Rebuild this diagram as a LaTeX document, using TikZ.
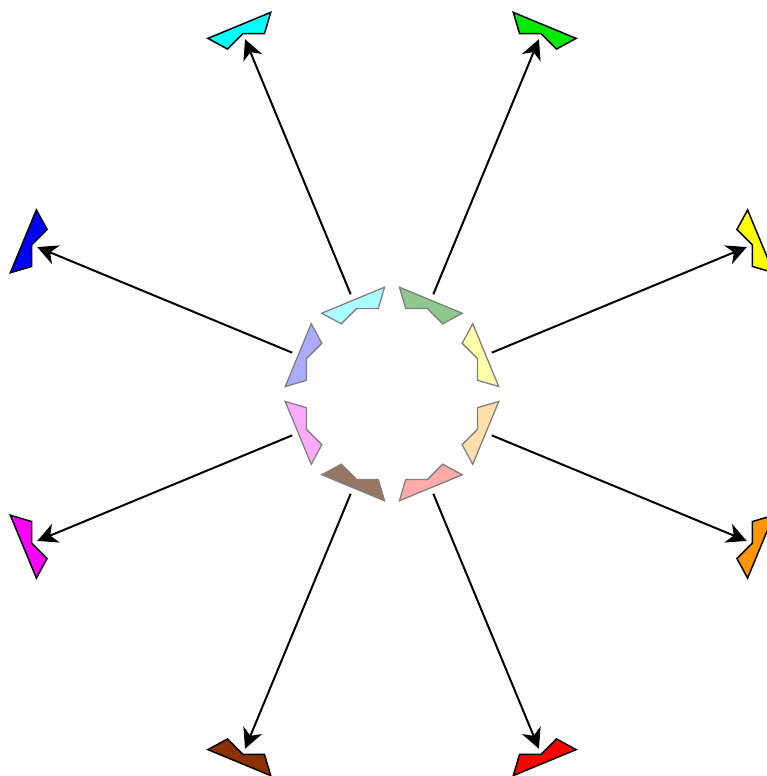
\documentclass[tikz,border=0pt]{standalone}
\usepackage{tikz}
\usetikzlibrary{arrows.meta}

\definecolor{paleYellow}{RGB}{255,255,170}
\definecolor{paleGreen}{RGB}{143,200,143}
\definecolor{paleCyan}{RGB}{170,255,255}
\definecolor{paleBlue}{RGB}{170,170,255}
\definecolor{paleMagenta}{RGB}{255,170,255}
\definecolor{paleBrown}{RGB}{150,118,98}
\definecolor{paleRed}{RGB}{255,170,170}
\definecolor{paleOrange}{RGB}{255,222,170}
\definecolor{fullYellow}{RGB}{255,255,0}
\definecolor{fullGreen}{RGB}{0,235,0}
\definecolor{fullCyan}{RGB}{0,255,255}
\definecolor{fullBlue}{RGB}{0,0,255}
\definecolor{fullMagenta}{RGB}{255,0,255}
\definecolor{fullBrown}{RGB}{140,50,0}
\definecolor{fullRed}{RGB}{255,0,0}
\definecolor{fullOrange}{RGB}{255,150,0}

\tikzset{
  chevron/.pic={
    \draw[pic actions] (101.5,34) -- (84.2,20) -- (92.5,0) -- (84.2,-20) -- (101.5,-34) -- cycle;
  }
}

\begin{document}
\begin{tikzpicture}[x=1pt, y=1pt, line width=2pt,
  ringshape/.style={draw=gray, line width=1.3pt},
  farshape/.style={draw=black, line width=1.5pt},
  push/.style={-{Stealth[length=20pt, width=20pt, inset=6pt]}}]
  \useasboundingbox (-392,-382) rectangle (375,394);

  % Inner ring
  \pic[rotate=22.5, ringshape, fill=paleYellow] at (0,0) {chevron};
  \pic[rotate=67.5, ringshape, fill=paleGreen] at (0,0) {chevron};
  \pic[rotate=112.5, ringshape, fill=paleCyan] at (0,0) {chevron};
  \pic[rotate=157.5, ringshape, fill=paleBlue] at (0,0) {chevron};
  \pic[rotate=202.5, ringshape, fill=paleMagenta] at (0,0) {chevron};
  \pic[rotate=247.5, ringshape, fill=paleBrown] at (0,0) {chevron};
  \pic[rotate=292.5, ringshape, fill=paleRed] at (0,0) {chevron};
  \pic[rotate=337.5, ringshape, fill=paleOrange] at (0,0) {chevron};

  % Outer shapes
  \pic[rotate=22.5, farshape, fill=fullYellow] at (22.5:297.5) {chevron};
  \pic[rotate=67.5, farshape, fill=fullGreen] at (67.5:297.5) {chevron};
  \pic[rotate=112.5, farshape, fill=fullCyan] at (112.5:297.5) {chevron};
  \pic[rotate=157.5, farshape, fill=fullBlue] at (157.5:297.5) {chevron};
  \pic[rotate=202.5, farshape, fill=fullMagenta] at (202.5:297.5) {chevron};
  \pic[rotate=247.5, farshape, fill=fullBrown] at (247.5:297.5) {chevron};
  \pic[rotate=292.5, farshape, fill=fullRed] at (292.5:297.5) {chevron};
  \pic[rotate=337.5, farshape, fill=fullOrange] at (337.5:297.5) {chevron};

  % Arrow ends
  \coordinate (Yin) at (22.5:108);   \coordinate (Yout) at (22.5:384);
  \coordinate (Gin) at (67.5:108);   \coordinate (Gout) at (67.5:384);
  \coordinate (Cin) at (112.5:108);  \coordinate (Cout) at (112.5:384);
  \coordinate (Bin) at (157.5:108);  \coordinate (Bout) at (157.5:384);
  \coordinate (Min) at (202.5:108);  \coordinate (Mout) at (202.5:384);
  \coordinate (Nin) at (247.5:108);  \coordinate (Nout) at (247.5:384);
  \coordinate (Rin) at (292.5:108);  \coordinate (Rout) at (292.5:384);
  \coordinate (Oin) at (337.5:108);  \coordinate (Oout) at (337.5:384);

  % Directed edges
  \draw[push] (Yin) -- (Yout);
  \draw[push] (Gin) -- (Gout);
  \draw[push] (Cin) -- (Cout);
  \draw[push] (Bin) -- (Bout);
  \draw[push] (Min) -- (Mout);
  \draw[push] (Nin) -- (Nout);
  \draw[push] (Rin) -- (Rout);
  \draw[push] (Oin) -- (Oout);
\end{tikzpicture}
\end{document}
